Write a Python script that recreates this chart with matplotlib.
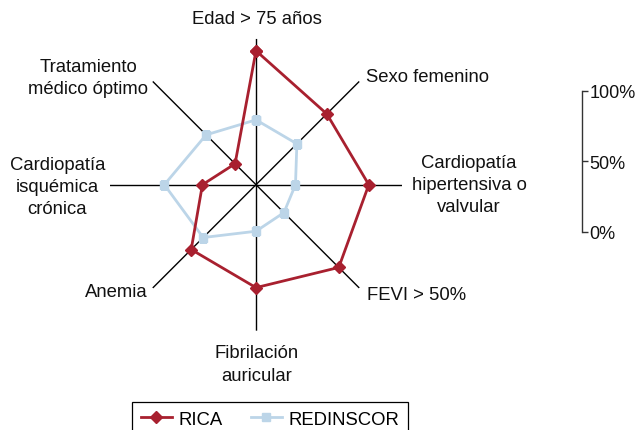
import matplotlib
matplotlib.use('Agg')
import matplotlib.pyplot as plt
import numpy as np

plt.rcParams['font.family'] = ['Liberation Sans', 'DejaVu Sans']

# axes, clockwise from the top
categories = ['Edad > 75 años', 'Sexo femenino', 'Cardiopatía\nhipertensiva o\nvalvular',
              'FEVI > 50%', 'Fibrilación\nauricular', 'Anemia',
              'Cardiopatía\nisquémica\ncrónica', 'Tratamiento\nmédico óptimo']
rica = [95, 71, 80, 83, 73, 65, 38, 21]
redinscor = [46, 41, 28, 28, 33, 53, 65, 50]
scale_ticks = [0, 50, 100]
scale_labels = ['0%', '50%', '100%']

W, H = 636, 431
fig = plt.figure(figsize=(W / 100, H / 100), dpi=100)

# polar axes: centre (256, 185.7) px, spokes 146 px long, 100% = 141 px
cx, cy, R = 256, 185.7, 146
rmax = 100 * R / 141
ax = fig.add_axes([(cx - R) / W, (H - cy - R) / H, 2 * R / W, 2 * R / H], projection='polar')
ax.set_theta_offset(np.pi / 2)
ax.set_theta_direction(-1)
ax.set_ylim(0, rmax)
ax.grid(False)
ax.set_xticks([])
ax.set_yticks([])
ax.spines['polar'].set_visible(False)
ax.patch.set_alpha(0)

n = len(categories)
angles = np.arange(n) * 2 * np.pi / n
for a in angles:
    ax.plot([a, a], [0, rmax], color='black', lw=1.0, zorder=1)

closed = np.append(angles, angles[0])
ax.plot(closed, redinscor + redinscor[:1], color='#bcd5e8', lw=2.0, marker='s',
        markersize=6, zorder=2, label='REDINSCOR')
ax.plot(closed, rica + rica[:1], color='#a8202f', lw=2.0, marker='D',
        markersize=6.5, zorder=3, label='RICA')

# category labels (pixel positions)
label_pos = [
    (257, 20, 'center'), (366, 78, 'left'), (469, 185.5, 'center'),
    (366.7, 295, 'left'), (257, 365, 'center'), (148, 293, 'right'),
    (57.5, 187.5, 'center'), (88, 78.3, 'center'),
]
for text, (x, y, ha) in zip(categories, label_pos):
    fig.text(x / W, 1 - y / H, text, ha=ha, va='center', multialignment='center',
             fontsize=13.3, color='#111111', linespacing=1.4)

# separate percentage scale bar on the right
sx = fig.add_axes([0.90, (H - 233) / H, 581.7 / W - 0.90, 141.3 / H])
sx.set_ylim(0, 100)
sx.set_xticks([])
for side in ['left', 'top', 'bottom']:
    sx.spines[side].set_visible(False)
sx.spines['right'].set_color('#333333')
sx.spines['right'].set_linewidth(1.0)
sx.yaxis.tick_right()
sx.set_yticks(scale_ticks)
sx.set_yticklabels(scale_labels)
sx.tick_params(axis='y', direction='out', length=4, width=1.0, color='#333333',
               labelsize=13, pad=1.5, labelcolor='#111111')
sx.patch.set_alpha(0)

handles, labels = ax.get_legend_handles_labels()
leg = fig.legend(handles[::-1], labels[::-1], loc='upper center',
                 bbox_to_anchor=(270 / W, 1 - 403.3 / H), ncol=2, fontsize=13.3,
                 frameon=True, fancybox=False, edgecolor='black', framealpha=1,
                 handlelength=1.7, handletextpad=0.35, columnspacing=1.5,
                 borderpad=0.45, borderaxespad=0)
leg.get_frame().set_linewidth(0.9)

fig.savefig('out.png', dpi=100)
